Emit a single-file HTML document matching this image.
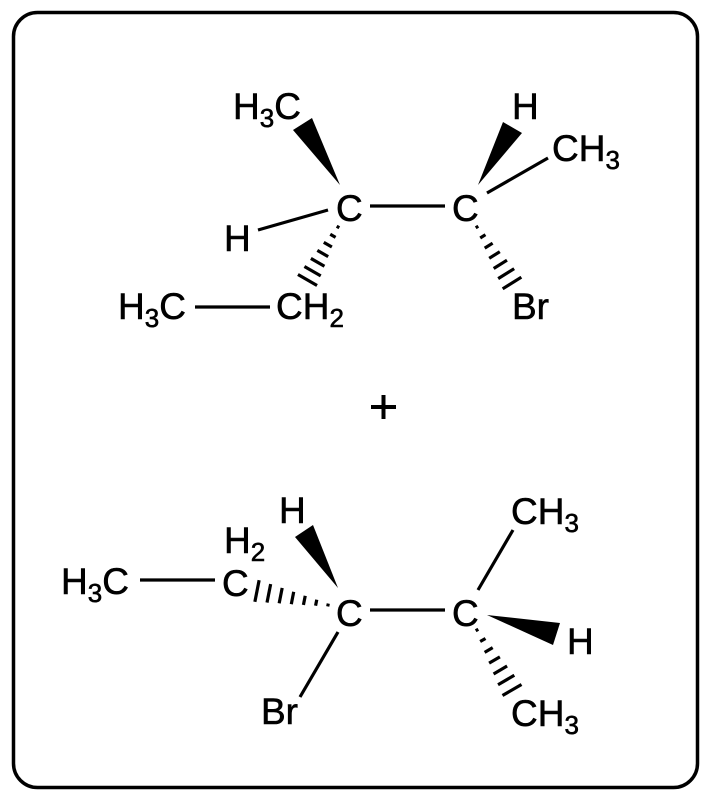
<!DOCTYPE html>
<html><head><meta charset="utf-8"><style>
html,body{margin:0;padding:0;background:#fff;}
svg{display:block;}
text{font-family:"Liberation Sans",Arial,sans-serif;font-size:37px;fill:#000;stroke:#000;stroke-width:0.6;}
</style></head><body>
<svg id="s" width="711" height="800" viewBox="0 0 711 800" xmlns="http://www.w3.org/2000/svg">
<rect x="13.5" y="12.5" width="684" height="775" rx="24" ry="24" fill="none" stroke="#000" stroke-width="3.5"/>
<g stroke="#000" stroke-width="3.2" stroke-linecap="butt" fill="none">
<line x1="370" y1="206" x2="445" y2="206"/>
<line x1="258" y1="230" x2="328" y2="210"/>
<line x1="195" y1="307" x2="270" y2="307"/>
<line x1="487" y1="193" x2="548" y2="158"/>
<line x1="140" y1="580" x2="215" y2="580"/>
<line x1="370" y1="610" x2="445" y2="610"/>
<line x1="338" y1="632" x2="300" y2="697"/>
<line x1="478" y1="590" x2="513" y2="530"/>
</g>
<g fill="#000">
<polygon points="340,185 293,130 312,118"/>
<polygon points="478,185 503,122 522,133"/>
<polygon points="338,588 295,537 313,525"/>
<polygon points="487,615 560,623 553,645"/>
<rect x="371" y="405" width="25" height="4"/>
<rect x="381.5" y="395" width="4" height="24"/>
</g>
<g id="hashes" stroke="#000" stroke-width="3.2"></g>
<text x="233" y="119">H<tspan font-size="26" dy="8">3</tspan><tspan dy="-8">C</tspan></text>
<text x="224" y="251">H</text>
<text x="336" y="221">C</text>
<text x="452" y="221">C</text>
<text x="512" y="119">H</text>
<text x="552" y="161">CH<tspan font-size="26" dy="8">3</tspan></text>
<text x="118" y="319">H<tspan font-size="26" dy="8">3</tspan><tspan dy="-8">C</tspan></text>
<text x="276" y="319">CH<tspan font-size="26" dy="8">2</tspan></text>
<text x="512" y="319">Br</text>
<text x="61" y="594">H<tspan font-size="26" dy="8">3</tspan><tspan dy="-8">C</tspan></text>
<text x="222" y="596">C</text>
<text x="224" y="553">H<tspan font-size="26" dy="8">2</tspan></text>
<text x="279" y="523">H</text>
<text x="336" y="626">C</text>
<text x="452" y="626">C</text>
<text x="511" y="524">CH<tspan font-size="26" dy="8">3</tspan></text>
<text x="567" y="654">H</text>
<text x="261" y="724">Br</text>
<text x="511" y="726">CH<tspan font-size="26" dy="8">3</tspan></text>
</svg>
<script>
(function(){
var g=document.getElementById('hashes');
function hash(nx,ny,wx,wy,hw,n){
  var dx=wx-nx,dy=wy-ny,L=Math.sqrt(dx*dx+dy*dy),px=-dy/L,py=dx/L;
  for(var i=0;i<n;i++){
    var t=i/(n-1),cx=nx+dx*t,cy=ny+dy*t,w=1.5+(hw-1.5)*t;
    var l=document.createElementNS('http://www.w3.org/2000/svg','line');
    l.setAttribute('x1',cx+px*w);l.setAttribute('y1',cy+py*w);
    l.setAttribute('x2',cx-px*w);l.setAttribute('y2',cy-py*w);
    g.appendChild(l);
  }
}
hash(338,227,307.5,280,11,7);
hash(477,227,512,283,11,7);
hash(328,605,257,591,11,7);
hash(477,630,512,690,11,7);
})();
</script>
</body></html>
